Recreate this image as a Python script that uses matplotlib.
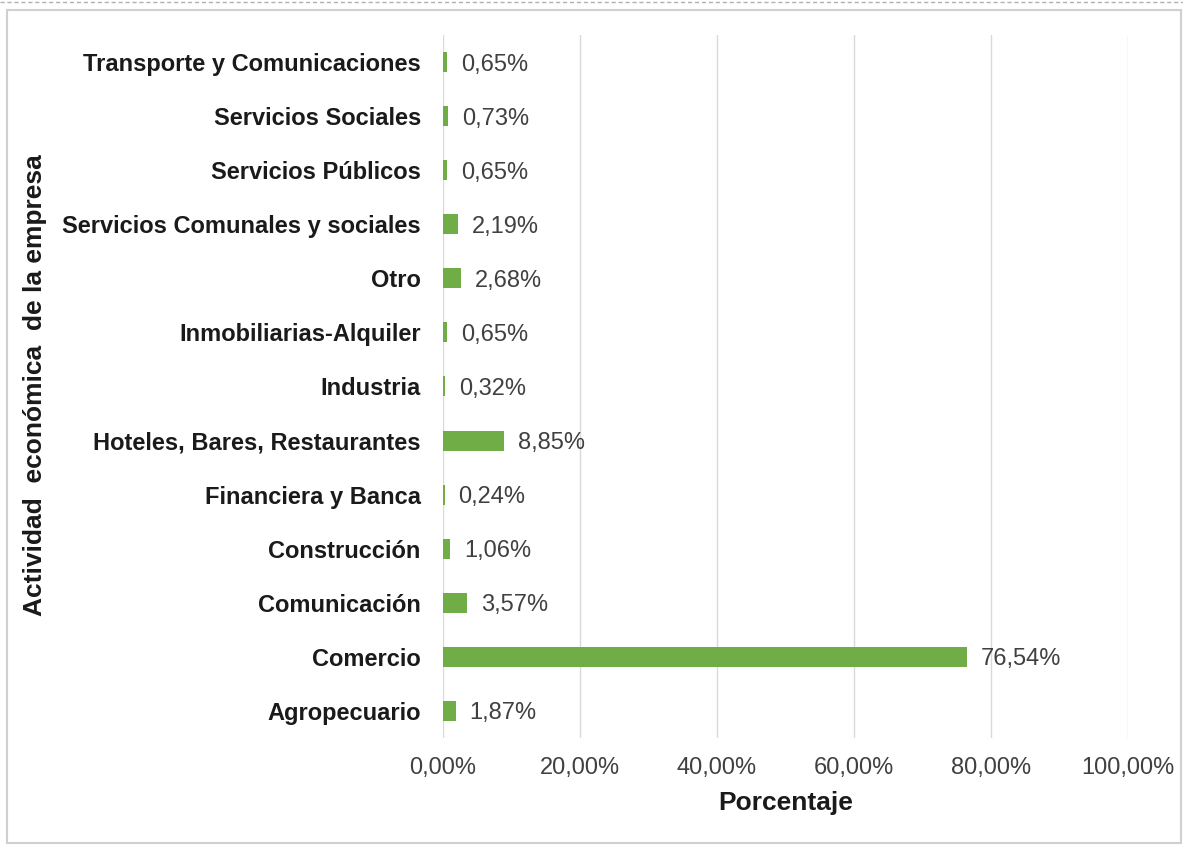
import matplotlib

matplotlib.use("Agg")

import matplotlib.pyplot as plt
from matplotlib.lines import Line2D
from matplotlib.patches import Rectangle

plt.rcParams["font.family"] = ["Liberation Sans", "DejaVu Sans"]

# Sectors, bottom to top as drawn on the y axis
sectores = [
    "Agropecuario",
    "Comercio",
    "Comunicación",
    "Construcción",
    "Financiera y Banca",
    "Hoteles, Bares, Restaurantes",
    "Industria",
    "Inmobiliarias-Alquiler",
    "Otro",
    "Servicios Comunales y sociales",
    "Servicios Públicos",
    "Servicios Sociales",
    "Transporte y Comunicaciones",
]
porcentajes = [1.87, 76.54, 3.57, 1.06, 0.24, 8.85, 0.32, 0.65, 2.68, 2.19, 0.65, 0.73, 0.65]
ticks_x = [0, 20, 40, 60, 80, 100]

verde = "#70ad47"
gris_texto = "#404040"
negro = "#1a1a1a"

fig = plt.figure(figsize=(11.83, 8.46), dpi=100)
ax = fig.add_axes([0.3745, 0.1277, 0.579, 0.8309])

# Chart-area frame plus the dashed line of the sheet above it
fig.patches.append(Rectangle((0.006, 0.003), 0.992, 0.985, transform=fig.transFigure,
                             fill=False, edgecolor="#d0d0d0", linewidth=1.5))
fig.lines.append(Line2D([0, 1], [0.998, 0.998], transform=fig.transFigure,
                        color="#b0b0b0", linewidth=1.0, linestyle=(0, (3, 2))))

posiciones = range(len(sectores))
ax.barh(posiciones, porcentajes, height=0.37, color=verde, zorder=3)

for y, v in zip(posiciones, porcentajes):
    etiqueta = f"{v:.2f}%".replace(".", ",")
    ax.annotate(etiqueta, (v, y), xytext=(10, 0), textcoords="offset points",
                va="center_baseline", ha="left", fontsize=17, color=gris_texto)

ax.set_xlim(0, 100)
ax.set_ylim(-0.5, len(sectores) - 0.5)
ax.set_xticks(ticks_x)
ax.set_xticklabels([f"{t:.2f}%".replace(".", ",") for t in ticks_x], fontsize=17, color=gris_texto)
ax.set_yticks(list(posiciones))
ax.set_yticklabels(sectores, fontsize=17, fontweight="bold", color=negro)
ax.tick_params(axis="y", length=0, pad=16)
ax.tick_params(axis="x", length=0, pad=14)

ax.grid(axis="x", color="#d9d9d9", linewidth=1.0, zorder=0)
for lado in ax.spines.values():
    lado.set_visible(False)

ax.set_xlabel("Porcentaje", fontsize=19, fontweight="bold", color=negro, labelpad=8)
fig.text(0.03, 0.545, "Actividad  económica  de la empresa", rotation=90,
         ha="center", va="center", fontsize=19, fontweight="bold", color=negro)

fig.savefig("out.png", dpi=100)
